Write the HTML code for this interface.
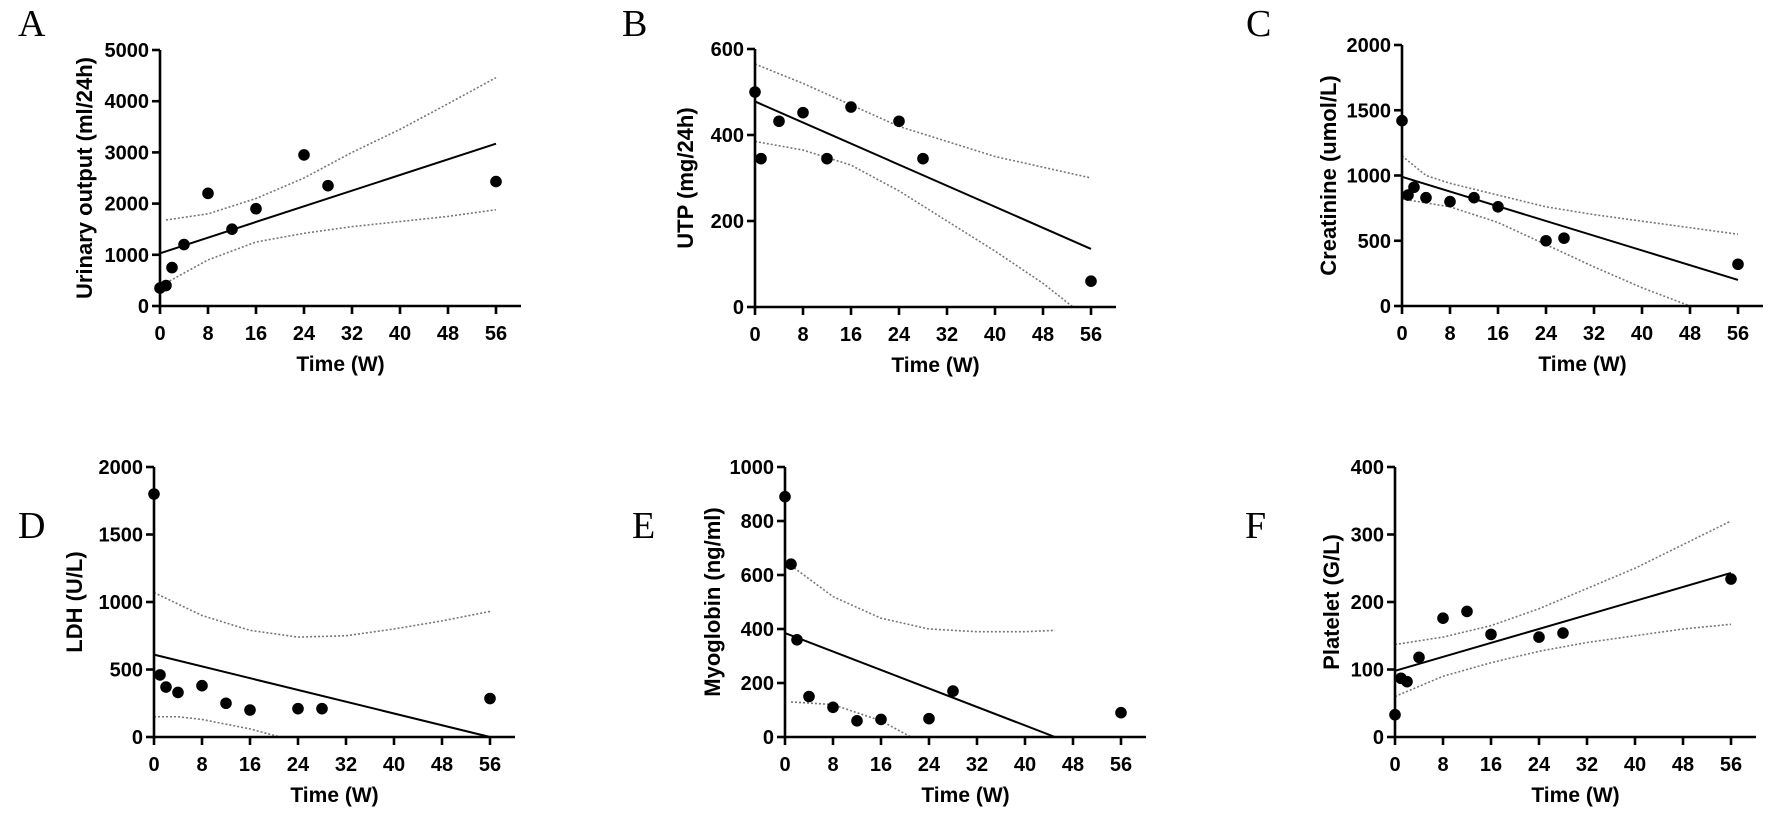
<!DOCTYPE html>
<html><head><meta charset="utf-8">
<style>
html,body{margin:0;padding:0;background:#fff;}
svg{display:block;}
text{font-family:"Liberation Sans",Arial,sans-serif;}
.tick{font-family:"Liberation Sans Narrow","Liberation Sans",Arial,sans-serif;}
</style></head>
<body>
<svg id="fig" width="1772" height="819" viewBox="0 0 1772 819" xmlns="http://www.w3.org/2000/svg"></svg>
<script>
// Shared x-axis
const xTicks = [0,8,16,24,32,40,48,56];

// Panel A
const aX = [0,1,2,4,8,12,16,24,28,56];
const aY = [350,400,750,1200,2200,1500,1900,2950,2350,2430];
const aFit = [[0,1030],[56,3170]];
const aUpX = [1,8,16,24,28,32,40,48,56];
const aUpY = [1680,1800,2100,2500,2750,3000,3450,3950,4460];
const aLoX = [1,8,16,24,32,40,48,56];
const aLoY = [450,900,1250,1420,1550,1650,1750,1880];
const aTicks = [0,1000,2000,3000,4000,5000];

// Panel B
const bX = [0,1,4,8,12,16,24,28,56];
const bY = [500,345,432,452,345,465,432,345,60];
const bFit = [[0,478],[56,135]];
const bUpX = [0,8,16,24,32,40,48,56];
const bUpY = [565,520,470,420,385,350,325,300];
const bLoX = [0,8,16,24,32,40,48,53];
const bLoY = [385,365,330,270,200,130,55,0];
const bTicks = [0,200,400,600];

// Panel C
const cX = [0,1,2,4,8,12,16,24,27,56];
const cY = [1420,850,910,830,800,830,760,500,520,320];
const cFit = [[0,990],[56,200]];
const cUpX = [0,4,8,16,24,32,40,56];
const cUpY = [1150,1000,940,850,760,700,650,550];
const cLoX = [0,8,16,24,32,40,48];
const cLoY = [820,760,640,470,300,140,0];
const cTicks = [0,500,1000,1500,2000];

// Panel D
const dX = [0,1,2,4,8,12,16,24,28,56];
const dY = [1800,460,370,330,380,250,200,210,210,285];
const dFit = [[0,610],[56,0]];
const dUpX = [0,8,16,24,32,40,48,56];
const dUpY = [1070,900,790,740,750,800,860,930];
const dLoX = [0,4,8,16,21];
const dLoY = [150,150,130,60,0];
const dTicks = [0,500,1000,1500,2000];

// Panel E
const eX = [0,1,2,4,8,12,16,24,28,56];
const eY = [890,640,360,150,110,60,65,68,170,90];
const eFit = [[0,385],[45,0]];
const eUpX = [1,8,16,24,32,40,45];
const eUpY = [635,520,440,400,390,390,395];
const eLoX = [1,8,16,21];
const eLoY = [130,120,60,0];
const eTicks = [0,200,400,600,800,1000];

// Panel F
const fX = [0,1,2,4,8,12,16,24,28,56];
const fY = [33,87,82,118,176,186,152,148,154,234];
const fFit = [[0,98],[56,243]];
const fUpX = [0,8,16,24,32,40,48,56];
const fUpY = [137,148,165,190,220,250,285,320];
const fLoX = [0,8,16,24,32,40,48,56];
const fLoY = [60,90,110,127,140,150,160,167];
const fTicks = [0,100,200,300,400];

const NS = 'http://www.w3.org/2000/svg';
const svg = document.getElementById('fig');
function mk(tag, parent){ const e = document.createElementNS(NS, tag); parent.appendChild(e); return e; }

const panels = [
  {id:'a', L:'A', ox:160, oy:306, top:50, ymax:5000, ticks:aTicks, xs:aX, ys:aY, fit:aFit, ux:aUpX, uy:aUpY, lx:aLoX, ly:aLoY, title:'Urinary output (ml/24h)', toff:68, lx0:18, ly0:36},
  {id:'b', L:'B', ox:755, oy:307, top:49, ymax:600, ticks:bTicks, xs:bX, ys:bY, fit:bFit, ux:bUpX, uy:bUpY, lx:bLoX, ly:bLoY, title:'UTP (mg/24h)', toff:62, lx0:622, ly0:36},
  {id:'c', L:'C', ox:1402, oy:306, top:45, ymax:2000, ticks:cTicks, xs:cX, ys:cY, fit:cFit, ux:cUpX, uy:cUpY, lx:cLoX, ly:cLoY, title:'Creatinine (umol/L)', toff:66, lx0:1246, ly0:36},
  {id:'d', L:'D', ox:154, oy:737, top:467, ymax:2000, ticks:dTicks, xs:dX, ys:dY, fit:dFit, ux:dUpX, uy:dUpY, lx:dLoX, ly:dLoY, title:'LDH (U/L)', toff:72, lx0:18, ly0:538},
  {id:'e', L:'E', ox:785, oy:737, top:467, ymax:1000, ticks:eTicks, xs:eX, ys:eY, fit:eFit, ux:eUpX, uy:eUpY, lx:eLoX, ly:eLoY, title:'Myoglobin (ng/ml)', toff:65, lx0:632, ly0:538},
  {id:'f', L:'F', ox:1395, oy:737, top:467, ymax:400, ticks:fTicks, xs:fX, ys:fY, fit:fFit, ux:fUpX, uy:fUpY, lx:fLoX, ly:fLoY, title:'Platelet (G/L)', toff:56, lx0:1245, ly0:538}
];

panels.forEach(p => {
  const g = mk('g', svg);
  
  
  const X = v => p.ox + v * 6;
  const Y = v => p.oy - v / p.ymax * (p.oy - p.top);
  const xEnd = p.ox + 361;

  const lt = mk('text', g);
  
  
  lt.setAttribute('x', p.lx0); lt.setAttribute('y', p.ly0);
  lt.setAttribute('font-size', '38');
  lt.setAttribute('style', 'font-family:"Liberation Serif",serif');
  lt.textContent = p.L;

  [[p.ux,p.uy,'ci-upper'],[p.lx,p.ly,'ci-lower']].forEach(([xa,ya,nm]) => {
    const pl = mk('polyline', g);
    
    
    pl.setAttribute('points', xa.map((v,i) => X(v)+','+Y(ya[i])).join(' '));
    pl.setAttribute('fill', 'none');
    pl.setAttribute('stroke', '#777');
    pl.setAttribute('stroke-width', '1.6');
    pl.setAttribute('stroke-dasharray', '2 2');
  });

  const fl = mk('line', g);
  
  
  fl.setAttribute('x1', X(p.fit[0][0])); fl.setAttribute('y1', Y(p.fit[0][1]));
  fl.setAttribute('x2', X(p.fit[1][0])); fl.setAttribute('y2', Y(p.fit[1][1]));
  fl.setAttribute('stroke', '#000'); fl.setAttribute('stroke-width', '2');

  const ax = mk('path', g);
  
  
  ax.setAttribute('d', `M${p.ox},${p.top} V${p.oy} H${xEnd}`);
  ax.setAttribute('stroke', '#000'); ax.setAttribute('stroke-width', '2.6'); ax.setAttribute('fill', 'none');

  p.ticks.forEach(t => {
    const tk = mk('line', g);
    
    
    tk.setAttribute('x1', p.ox - 8); tk.setAttribute('x2', p.ox);
    tk.setAttribute('y1', Y(t)); tk.setAttribute('y2', Y(t));
    tk.setAttribute('stroke', '#000'); tk.setAttribute('stroke-width', '2.6');
    const tl = mk('text', g);
    
    
    tl.setAttribute('class', 'tick');
    tl.setAttribute('x', p.ox - 11); tl.setAttribute('y', Y(t) + 7);
    tl.setAttribute('text-anchor', 'end'); tl.setAttribute('font-size', '20'); tl.setAttribute('font-weight', 'bold');
    tl.textContent = t;
  });
  xTicks.forEach(t => {
    const tk = mk('line', g);
    
    
    tk.setAttribute('x1', X(t)); tk.setAttribute('x2', X(t));
    tk.setAttribute('y1', p.oy); tk.setAttribute('y2', p.oy + 8);
    tk.setAttribute('stroke', '#000'); tk.setAttribute('stroke-width', '2.6');
    const tl = mk('text', g);
    
    
    tl.setAttribute('class', 'tick');
    tl.setAttribute('x', X(t)); tl.setAttribute('y', p.oy + 34);
    tl.setAttribute('text-anchor', 'middle'); tl.setAttribute('font-size', '20'); tl.setAttribute('font-weight', 'bold');
    tl.textContent = t;
  });

  const xt = mk('text', g);
  
  
  xt.setAttribute('x', (p.ox + xEnd) / 2); xt.setAttribute('y', p.oy + 65);
  xt.setAttribute('text-anchor', 'middle'); xt.setAttribute('font-size', '21'); xt.setAttribute('font-weight', 'bold');
  xt.textContent = 'Time (W)';

  const yt = mk('text', g);
  
  
  const cx = p.ox - p.toff, cy = (p.top + p.oy) / 2;
  yt.setAttribute('x', cx); yt.setAttribute('y', cy);
  yt.setAttribute('transform', `rotate(-90 ${cx} ${cy})`);
  yt.setAttribute('text-anchor', 'middle'); yt.setAttribute('font-size', '22'); yt.setAttribute('font-weight', 'bold');
  yt.textContent = p.title;

  p.xs.forEach((v, i) => {
    const c = mk('circle', g);
    
    
    c.setAttribute('cx', X(v)); c.setAttribute('cy', Y(p.ys[i])); c.setAttribute('r', '5.8');
    c.setAttribute('fill', '#000');
  });
});
</script>
</body></html>
